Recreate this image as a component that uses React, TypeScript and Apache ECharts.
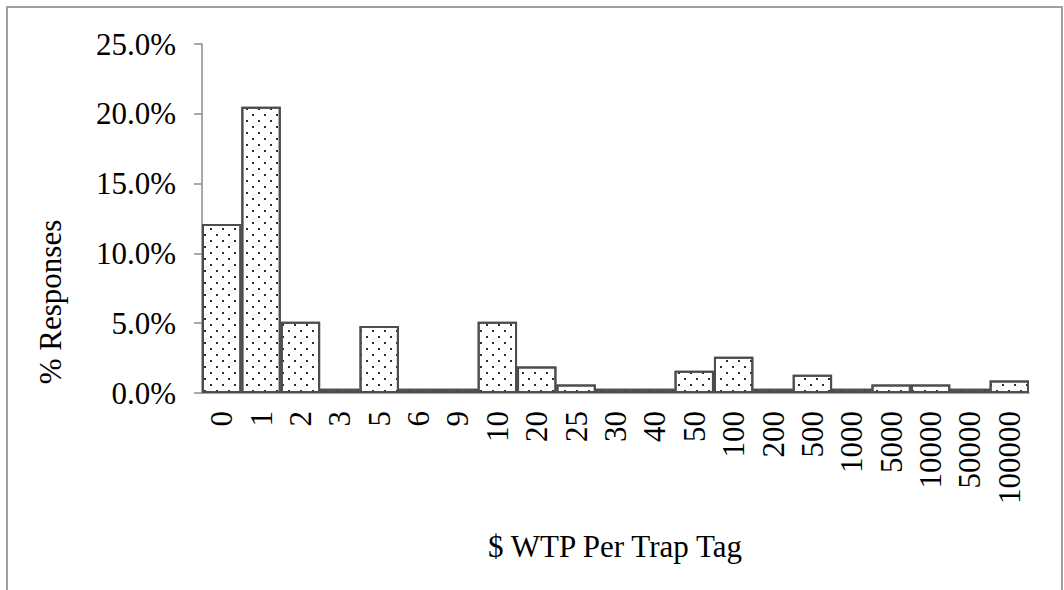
import React, { useEffect, useRef } from "react";
import * as echarts from "echarts";

// Willingness-to-pay answer buckets ($ per trap tag)
const wtpCategories = [
  "0", "1", "2", "3", "5", "6", "9", "10", "20", "25", "30", "40",
  "50", "100", "200", "500", "1000", "5000", "10000", "50000", "100000",
];

// Share of responses in each bucket (%)
const responseShare = [
  12.1, 20.5, 5.1, 0.3, 4.8, 0.3, 0.3, 5.1, 1.9, 0.6, 0.3, 0.3,
  1.6, 2.6, 0.3, 1.3, 0.3, 0.6, 0.6, 0.3, 0.9,
];

const yTicks = { min: 0, max: 25, interval: 5 };

const FONT = "'Liberation Serif', 'Times New Roman', serif";

export default function App() {
  const ref = useRef<HTMLDivElement>(null);

  useEffect(() => {
    if (!ref.current) return;
    const chart = echarts.init(ref.current, undefined, { renderer: "svg" });
    chart.setOption({
      animation: false,
      backgroundColor: "#ffffff",
      grid: { left: 202, right: 35, top: 44, bottom: 197, containLabel: false },
      xAxis: {
        type: "category",
        data: wtpCategories,
        axisLine: { show: true, lineStyle: { color: "#8c8c8c", width: 1.5 } },
        axisTick: { show: false },
        axisLabel: {
          rotate: 90,
          interval: 0,
          margin: 18,
          color: "#000",
          fontFamily: FONT,
          fontSize: 31,
        },
      },
      yAxis: {
        type: "value",
        min: yTicks.min,
        max: yTicks.max,
        interval: yTicks.interval,
        splitLine: { show: false },
        axisLine: { show: true, lineStyle: { color: "#8c8c8c", width: 1.5 } },
        axisTick: { show: true, length: 8, lineStyle: { color: "#8c8c8c", width: 1.5 } },
        axisLabel: {
          margin: 26,
          color: "#000",
          fontFamily: FONT,
          fontSize: 31,
          formatter: (v: number) => `${v.toFixed(1)}%`,
        },
      },
      series: [
        {
          type: "bar",
          data: responseShare,
          barCategoryGap: "0%",
          itemStyle: {
            color: "#ffffff",
            borderColor: "#4d4d4d",
            borderWidth: 2,
            decal: {
              symbol: "rect",
              symbolSize: 1,
              color: "#2e2e2e",
              dashArrayX: [
                [2, 10],
                [0, 6, 2, 4],
              ],
              dashArrayY: [2, 4],
              rotation: 0,
            },
          },
        },
      ],
      graphic: [
        {
          type: "rect",
          shape: { x: 7, y: 7, width: 1055, height: 620 },
          style: { fill: "none", stroke: "#a0a0a0", lineWidth: 2 },
          silent: true,
        },
        {
          type: "text",
          x: 50,
          y: 302,
          rotation: Math.PI / 2,
          style: {
            text: "% Responses",
            font: `31px ${FONT}`,
            fill: "#000",
            textAlign: "center",
            textVerticalAlign: "middle",
          },
        },
        {
          type: "text",
          x: 615,
          y: 546,
          style: {
            text: "$ WTP Per Trap Tag",
            font: `31px ${FONT}`,
            fill: "#000",
            textAlign: "center",
            textVerticalAlign: "middle",
          },
        },
      ],
    });
    return () => chart.dispose();
  }, []);

  return (
    <div
      ref={ref}
      style={{ position: "absolute", left: 0, top: 0, width: 1064, height: 590 }}
    />
  );
}
